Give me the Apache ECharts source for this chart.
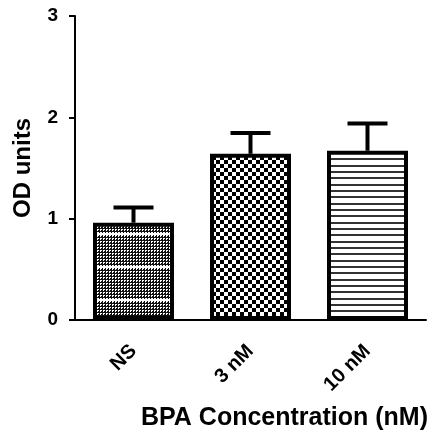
<!DOCTYPE html>
<html>
<head>
<meta charset="utf-8">
<script src="https://cdn.jsdelivr.net/npm/echarts@6/dist/echarts.min.js"></script>
<style>
  html, body { margin: 0; padding: 0; background: #fff; }
  #chart { width: 432px; height: 436px; }
</style>
</head>
<body>
<div id="chart"></div>
<script>
// Optical density by BPA treatment group (mean with SEM)
const categories = ['NS', '3 nM', '10 nM'];
const meanValues = [0.96, 1.64, 1.67];
const semValues = [0.15, 0.205, 0.27];
const yTicks = [0, 1, 2, 3];

const FONT = "'Liberation Sans', Arial, sans-serif";

// Fill patterns for the three bars
function makeTile(w, h, draw) {
  const c = document.createElement('canvas');
  c.width = w; c.height = h;
  const ctx = c.getContext('2d');
  ctx.fillStyle = '#fff';
  ctx.fillRect(0, 0, w, h);
  draw(ctx);
  return { image: c, repeat: 'repeat' };
}

// dark dotted texture with a light band every 33px
const dotPattern = makeTile(3, 33, ctx => {
  ctx.fillStyle = '#111';
  ctx.fillRect(0, 0, 3, 33);
  ctx.fillStyle = '#fff';
  for (let y = 0; y < 33; y += 3) {
    ctx.fillRect(1, y + 1, 2, 1);
    ctx.fillRect(1, y + 2, 1, 1);
  }
  ctx.fillRect(0, 2, 3, 2);
});

// checkerboard
const checkPattern = makeTile(8, 8, ctx => {
  ctx.fillStyle = '#000';
  ctx.fillRect(0, 0, 4, 4);
  ctx.fillRect(4, 4, 4, 4);
});

// horizontal stripes
const stripePattern = makeTile(4, 19, ctx => {
  ctx.fillStyle = '#333';
  ctx.fillRect(0, 0, 4, 2);
  ctx.fillRect(0, 6, 4, 2);
  ctx.fillRect(0, 13, 4, 2);
});

const patterns = [dotPattern, checkPattern, stripePattern];

const chart = echarts.init(document.getElementById('chart'), null, { renderer: 'canvas' });

chart.setOption({
  animation: false,
  backgroundColor: '#fff',
  grid: { left: 75, right: 6, top: 16, bottom: 116, containLabel: false },
  xAxis: {
    type: 'category',
    data: categories,
    axisLine: { lineStyle: { color: '#000', width: 2 } },
    axisTick: { alignWithLabel: true, length: 6, lineStyle: { color: '#000', width: 2 } },
    axisLabel: {
      rotate: 45, margin: 28, color: '#000',
      fontFamily: FONT, fontWeight: 'bold', fontSize: 20
    }
  },
  yAxis: {
    type: 'value',
    min: yTicks[0], max: yTicks[yTicks.length - 1], interval: 1,
    name: 'OD units',
    nameLocation: 'middle',
    nameGap: 40,
    nameRotate: 90,
    nameTextStyle: { color: '#000', fontFamily: FONT, fontWeight: 'bold', fontSize: 24 },
    axisLine: { show: true, lineStyle: { color: '#000', width: 2 } },
    axisTick: { show: true, length: 6, lineStyle: { color: '#000', width: 2 } },
    axisLabel: { margin: 17, color: '#000', fontFamily: FONT, fontWeight: 'bold', fontSize: 19 },
    splitLine: { show: false }
  },
  graphic: [{
    type: 'text',
    right: 4,
    top: 406,
    style: {
      text: 'BPA Concentration (nM)',
      fill: '#000',
      font: 'bold 25px ' + FONT
    }
  }],
  series: [
    {
      type: 'bar',
      barWidth: 81,
      data: meanValues.map((v, i) => ({
        value: v,
        itemStyle: { color: patterns[i], borderColor: '#000', borderWidth: 4 }
      }))
    },
    {
      type: 'custom',
      z: 3,
      data: meanValues.map((v, i) => [i, v, v + semValues[i]]),
      renderItem: function (params, api) {
        const base = api.coord([api.value(0), api.value(1)]);
        const top = api.coord([api.value(0), api.value(2)]);
        const half = 20;
        const style = { stroke: '#000', lineWidth: 4, fill: null };
        return {
          type: 'group',
          children: [
            { type: 'line', shape: { x1: base[0], y1: base[1], x2: top[0], y2: top[1] }, style: style },
            { type: 'line', shape: { x1: top[0] - half, y1: top[1], x2: top[0] + half, y2: top[1] }, style: style }
          ]
        };
      }
    }
  ]
});
</script>
</body>
</html>
